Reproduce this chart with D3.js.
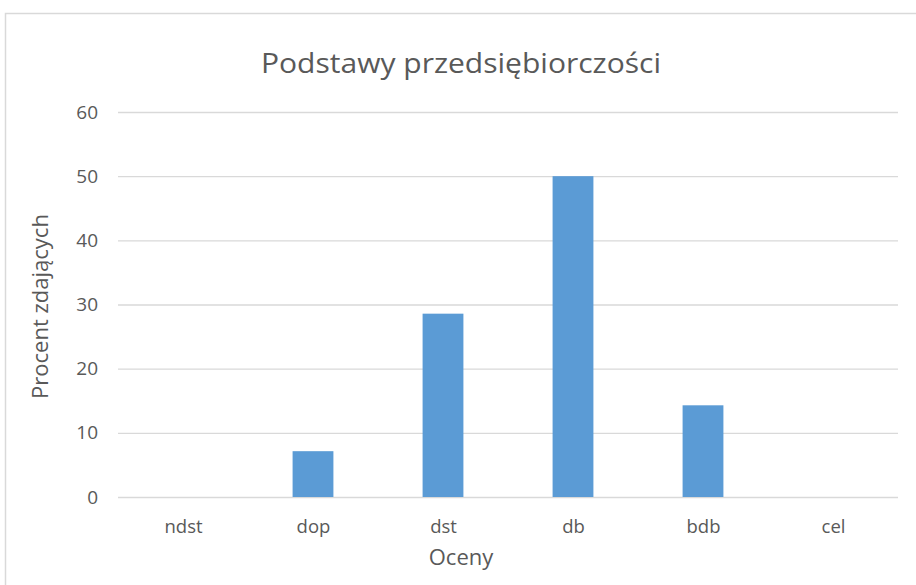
<!DOCTYPE html>
<html>
<head>
<meta charset="utf-8">
<script src="https://cdn.jsdelivr.net/npm/d3@7"></script>
<style>
  body { margin: 0; background: #fff; }
  svg text { font-family: "Open Sans", "DejaVu Sans", sans-serif; fill: #595959; }
</style>
</head>
<body>
<div id="chart"></div>
<script>
// chart data
const categories = ['ndst', 'dop', 'dst', 'db', 'bdb', 'cel'];
const percentValues = [0, 7.14, 28.57, 50, 14.29, 0];
const yTicks = [0, 10, 20, 30, 40, 50, 60];
const chartTitle = 'Podstawy przedsiębiorczości';
const xTitle = 'Oceny';
const yTitle = 'Procent zdających';

const width = 916, height = 585;
const margin = { top: 112, right: 18, bottom: 88, left: 118 };
const innerW = width - margin.left - margin.right;
const innerH = height - margin.top - margin.bottom;
const frameCenter = 461;

const svg = d3.select('#chart')
    .append('svg')
    .attr('width', width)
    .attr('height', height);

// outer frame
svg.append('rect')
    .attr('x', 5.5)
    .attr('y', 13.5)
    .attr('width', width)
    .attr('height', height)
    .attr('fill', 'none')
    .attr('stroke', '#d9d9d9')
    .attr('stroke-width', 1.5);

const g = svg.append('g')
    .attr('transform', `translate(${margin.left},${margin.top})`);

const x = d3.scaleBand()
    .domain(categories)
    .range([0, innerW])
    .paddingInner(0.686)
    .paddingOuter(0.343);

const y = d3.scaleLinear()
    .domain([0, 60])
    .range([innerH, 0]);

// gridlines
g.append('g')
    .attr('class', 'grid')
    .call(d3.axisLeft(y).tickValues(yTicks).tickSize(-innerW).tickFormat(''))
    .call(s => s.select('.domain').remove())
    .call(s => s.selectAll('line').attr('stroke', '#d9d9d9').attr('stroke-width', 1.3));

// y tick labels
g.append('g')
    .call(d3.axisLeft(y).tickValues(yTicks).tickSize(0).tickPadding(20))
    .call(s => s.select('.domain').remove())
    .call(s => s.selectAll('text').style('font-size', '19px').attr('fill', '#595959'));

// bars
g.selectAll('.bar')
    .data(percentValues)
    .enter()
    .append('rect')
    .attr('class', 'bar')
    .attr('x', (d, i) => x(categories[i]))
    .attr('y', d => y(d))
    .attr('width', x.bandwidth())
    .attr('height', d => innerH - y(d))
    .attr('fill', '#5b9bd5');

// x axis
g.append('g')
    .attr('transform', `translate(0,${innerH})`)
    .call(d3.axisBottom(d3.scalePoint().domain(categories).range([innerW / 12, innerW - innerW / 12])).tickSize(0).tickPadding(23))
    .call(s => s.select('.domain').remove())
    .call(s => s.selectAll('text').style('font-size', '18.5px').attr('fill', '#595959'));

// titles
svg.append('text')
    .attr('x', frameCenter)
    .attr('y', 73)
    .attr('text-anchor', 'middle')
    .attr('textLength', 400)
    .attr('lengthAdjust', 'spacingAndGlyphs')
    .style('font-size', '28px')
    .text(chartTitle);

svg.append('text')
    .attr('x', frameCenter)
    .attr('y', 565)
    .attr('text-anchor', 'middle')
    .style('font-size', '22px')
    .text(xTitle);

svg.append('text')
    .attr('transform', `translate(48,${margin.top + innerH / 2 + 2}) rotate(-90)`)
    .attr('text-anchor', 'middle')
    .style('font-size', '22px')
    .text(yTitle);
</script>
</body>
</html>
